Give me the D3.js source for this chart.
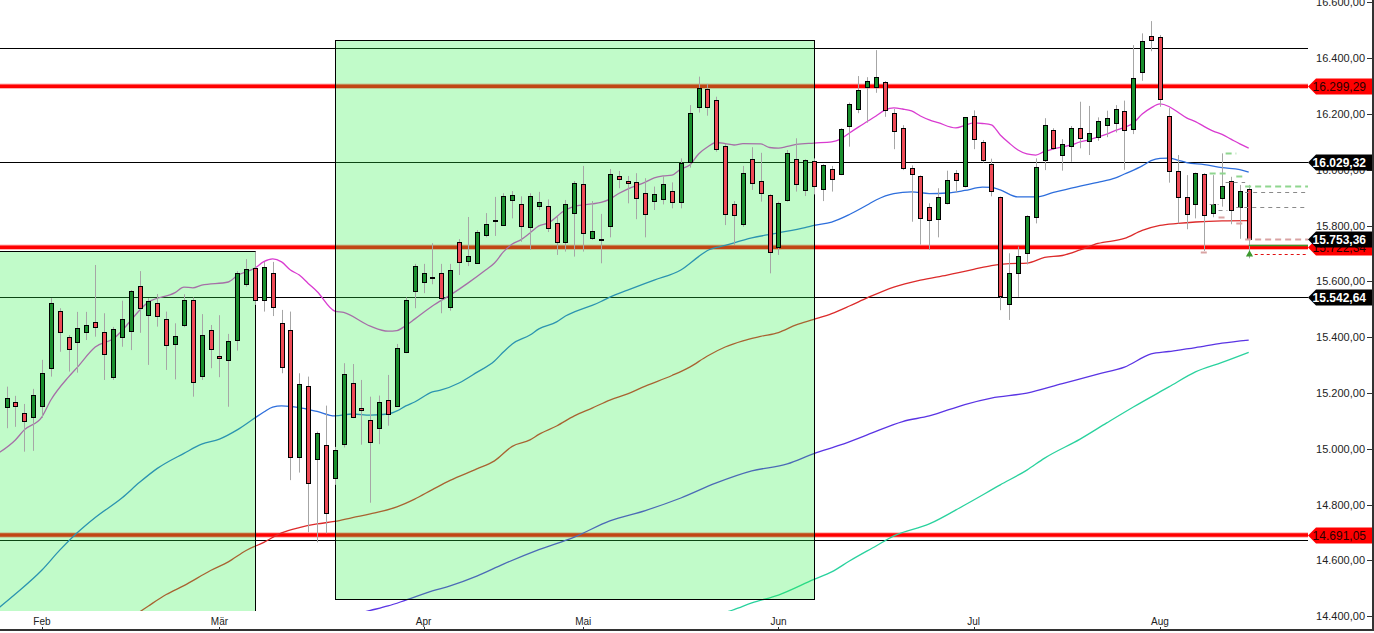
<!DOCTYPE html>
<html><head><meta charset="utf-8">
<script src="https://cdn.jsdelivr.net/npm/d3@7"></script>
<style>
html,body{margin:0;padding:0;background:#fff;}
svg{display:block;font-family:"Liberation Sans",Arial,sans-serif;}
</style></head><body>
<svg id="chart" width="1374" height="633"></svg>
<script>
// ---------- DATA (daily candles, index 0 = first visible trading day) ----------
const open=[15151,15169,15128,15113,15155,15289,15494,15400,15382,15418,
15454,15418,15257,15400,15421,15583,15479,15522,15464,15375,
15443,15532,15260,15425,15332,15319,15389,15590,15647,15532,
15629,15450,15426,14972,15225,14963,15013,14894,15016,15235,
15145,15102,15074,15174,15153,15346,15565,15597,15615,15629,
15507,15740,15674,15667,15765,15820,15803,15891,15876,15796,
15871,15870,15808,15742,15844,15948,15755,15751,15798,15977,
15959,15955,15916,15887,15894,15923,15884,16027,16224,16289,
16249,16086,15876,15805,16038,15959,15909,15725,15891,16038,
15927,16031,15930,16002,15984,16156,16217,16298,16298,16314,
16203,16149,16005,15977,15866,15823,15880,15988,15941,16192,
16099,16020,15902,15518,15629,15701,15830,16034,16142,16052,
16084,16149,16102,16117,16160,16167,16210,16145,16350,16479,
16475,16192,15995,15902,15876,15984,15844,15898,15959,15866,
15930];
const high=[15223,15190,15161,15215,15319,15540,15504,15408,15491,15491,
15659,15486,15437,15531,15569,15637,15540,15555,15492,15450,
15554,15543,15483,15444,15479,15412,15637,15680,15707,15670,
15670,15498,15492,15271,15259,15062,15155,15007,15307,15304,
15247,15187,15191,15265,15376,15543,15663,15663,15737,15663,
15663,15752,15831,15784,15845,15903,15916,15924,15905,15916,
15921,15894,15832,15892,15960,16014,15888,15842,16003,15996,
15978,15988,15970,15940,15980,15955,16041,16232,16334,16308,
16262,16093,15888,16014,16081,16061,15913,15886,16071,16113,
16038,16041,16020,16014,16149,16241,16336,16332,16429,16318,
16218,16160,16016,15980,15880,15934,15997,15999,16188,16213,
16107,16040,15904,15701,15725,15837,16041,16185,16149,16110,
16157,16244,16229,16188,16212,16232,16248,16447,16489,16533,
16483,16221,16053,15981,15990,15988,15981,16059,15975,15946,
15946];
const low=[15074,15079,14990,14993,15111,15259,15348,15277,15273,15390,
15402,15247,15247,15366,15354,15416,15301,15438,15283,15249,
15436,15187,15247,15289,15257,15151,15352,15581,15516,15492,
15476,15271,14888,14915,14701,14665,14697,14871,15005,15110,
15015,14807,15017,15083,15151,15343,15504,15558,15590,15486,
15495,15623,15655,15666,15758,15763,15802,15826,15742,15713,
15856,15777,15695,15707,15689,15707,15749,15665,15758,15934,
15880,15823,15758,15856,15876,15862,15862,16008,16205,16194,
16065,15802,15731,15796,15928,15886,15629,15695,15886,15922,
15906,15912,15888,15922,15981,16083,16203,16169,16276,16190,
16074,15999,15814,15732,15713,15758,15876,15919,15937,16074,
16026,15905,15497,15462,15545,15661,15808,15999,16071,15997,
16029,16077,16053,16104,16117,16134,16000,16128,16319,16425,
16226,15954,15808,15787,15826,15709,15830,15868,15805,15753,
15683];
const close=[15181,15155,15101,15192,15271,15522,15420,15357,15432,15443,
15436,15339,15429,15464,15565,15504,15529,15475,15371,15403,
15532,15239,15407,15357,15325,15386,15629,15644,15532,15651,
15507,15295,14972,15231,14877,15056,14769,14995,15267,15113,
15138,15024,15167,15124,15360,15532,15654,15629,15615,15540,
15640,15671,15690,15776,15805,15820,15905,15909,15800,15905,
15884,15790,15742,15876,15952,15773,15780,15751,15984,15966,
15952,15898,15841,15912,15948,15884,16026,16203,16292,16224,
16074,15841,15837,15988,15952,15916,15707,15880,16059,15948,
16034,15941,16016,15966,16145,16235,16285,16317,16332,16213,
16138,16005,15984,15826,15819,15902,15962,15962,16188,16109,
16034,15923,15547,15629,15690,15833,16009,16160,16077,16091,
16149,16113,16131,16174,16185,16217,16142,16328,16461,16464,
16253,15995,15902,15841,15988,15837,15876,15941,15855,15923,
15753.36];

const monthLabels=["Feb","Mär","Apr","Mai","Jun","Jul","Aug"];
const monthIndex=[4,24,47,65,87,109,130];
const yTicks=[14400,14600,14800,15000,15200,15400,15600,15800,16000,16200,16400,16600];

// moving averages: [candle index, value]
const ma20=[[-1,14983],[1,15032],[2,15068],[4,15115],[5,15175],[7,15258],[8,15293],[10,15365],[12,15394],[16,15526],[19,15560],[20,15580],[21,15577],[22,15587],[25,15598],[26,15621],[28,15648],[29,15671],[30,15681],[31,15670],[32,15641],[33,15623],[34,15593],[35,15564],[37,15494],[38,15489],[41,15440],[43,15422],[44,15424],[45,15442],[46,15465],[48,15512],[50,15551],[52,15594],[54,15641],[55,15666],[56,15706],[57,15734],[58,15750],[59,15774],[60,15799],[61,15809],[63,15856],[64,15869],[66,15878],[67,15883],[68,15895],[69,15915],[70,15931],[72,15956],[73,15971],[74,15978],[75,15981],[76,16003],[77,16017],[78,16057],[79,16082],[80,16098],[81,16094],[82,16089],[83,16094],[85,16093],[86,16080],[87,16078],[88,16084],[89,16091],[91,16096],[93,16100],[94,16110],[95,16132],[96,16153],[97,16173],[98,16193],[99,16214],[100,16222],[101,16218],[102,16211],[103,16193],[104,16179],[105,16169],[107,16150],[108,16159],[109,16168],[110,16166],[111,16161],[112,16125],[113,16096],[114,16071],[115,16057],[116,16053],[117,16066],[118,16075],[120,16089],[121,16100],[122,16107],[123,16118],[124,16128],[125,16141],[126,16152],[127,16168],[128,16200],[129,16222],[130,16236],[131,16227],[132,16207],[133,16186],[134,16173],[135,16155],[136,16139],[137,16127],[138,16110],[139,16093],[140,16078]];
const ma50=[[-1,14427],[1,14480],[4,14566],[6,14637],[8,14700],[10,14754],[13,14824],[15,14880],[17,14930],[20,14984],[22,15017],[24,15035],[26,15068],[28,15111],[29,15132],[30,15150],[31,15154],[33,15148],[35,15134],[37,15118],[39,15125],[41,15121],[43,15125],[44,15136],[45,15154],[46,15168],[48,15204],[49,15211],[51,15236],[53,15274],[55,15315],[56,15347],[57,15376],[59,15408],[60,15430],[62,15455],[63,15476],[64,15491],[66,15514],[67,15528],[68,15544],[70,15569],[73,15605],[76,15641],[78,15689],[79,15711],[81,15729],[84,15756],[87,15774],[90,15793],[91,15801],[93,15813],[95,15840],[97,15874],[98,15892],[100,15915],[102,15921],[104,15915],[106,15917],[108,15926],[110,15938],[111,15937],[112,15928],[114,15903],[116,15903],[118,15919],[121,15942],[123,15955],[125,15971],[126,15985],[128,16014],[129,16033],[130,16041],[131,16042],[132,16035],[133,16026],[135,16019],[137,16008],[139,16001],[140,15992]];
const ma100=[[14,14394],[16,14437],[18,14478],[20,14510],[23,14564],[25,14595],[27,14636],[29,14665],[31,14699],[33,14718],[35,14731],[37,14740],[39,14754],[41,14767],[44,14792],[46,14820],[48,14854],[50,14887],[53,14928],[55,14957],[57,15009],[59,15032],[60,15052],[62,15082],[64,15118],[66,15146],[68,15175],[70,15197],[72,15225],[75,15263],[77,15293],[79,15333],[81,15365],[83,15387],[85,15403],[87,15417],[89,15444],[91,15464],[93,15485],[95,15512],[97,15541],[100,15580],[103,15605],[106,15623],[109,15643],[111,15657],[113,15664],[115,15666],[117,15686],[119,15693],[121,15713],[123,15736],[126,15754],[128,15783],[130,15801],[132,15808],[134,15813],[137,15817],[140,15818]];
const ma200=[[39,14405],[41,14421],[43,14437],[45,14458],[48,14491],[50,14509],[53,14544],[56,14587],[60,14639],[64,14684],[68,14742],[72,14779],[76,14824],[80,14878],[84,14921],[88,14946],[91,14983],[94,15014],[97,15050],[101,15098],[104,15118],[108,15159],[111,15182],[115,15200],[119,15234],[123,15268],[126,15293],[129,15340],[131,15349],[134,15363],[137,15379],[140,15390]];
const maTeal=[[81,14414],[82,14424],[84,14448],[87,14476],[91,14532],[93,14559],[95,14598],[98,14652],[100,14688],[104,14731],[108,14799],[112,14871],[115,14924],[117,14967],[121,15035],[124,15093],[127,15150],[131,15222],[134,15276],[137,15310],[140,15346]];

const redLevels=[16299.29,15722.34,14691.05];
const blackLevels=[16435,16029.32,15542.64,14672];
const blackLabeled=[16029.32,15542.64];
const lastPrice=15753.36;
const zoneFrom=[-2,37], zoneTo=[28,91], zoneTop=[15709,16465], zoneBottom=[14380,14462];
// small projection marks at the right: value, start index, end index (null = plot edge), kind
const markValue=[16059,15988,15978,15957,15942,15922,15866,15751,15730,15697,15876,15855,15832,15808,15704];
const markFrom=[137.4,135.6,138.6,137.4,139.6,139.6,138.6,139.6,140,140,135.6,136.6,136.6,138.6,134.6];
const markTo=[138.6,137.4,139.4,139.6,null,null,null,null,null,null,136.6,137.6,137.6,139.4,135.6];
const markKind=["g","g","g","k","g","k","k","p","gs","r","k","k","p","p","p"];

// ---------- DRAW ----------
const svg=d3.select("#chart");
const plotR=1308, plotB=611;
const x=d3.scaleLinear().domain([0,140]).range([6.5,1248.7]);
const y=d3.scaleLinear().domain([14400,16600]).range([616.3,2.4]);
const de=d3.formatLocale({decimal:",",thousands:".",grouping:[3],currency:["","€"]});
const fmt=de.format(",.2f");

svg.append("defs").append("clipPath").attr("id","plot")
  .append("rect").attr("x",0).attr("y",0).attr("width",plotR).attr("height",plotB);
const g=svg.append("g").attr("clip-path","url(#plot)");
const px=v=>Math.round(v)+0.5;

// thin black levels
g.selectAll("line.bl").data(blackLevels).join("line")
  .attr("x1",0).attr("x2",plotR).attr("y1",d=>px(y(d))).attr("y2",d=>px(y(d)))
  .attr("stroke","#000").attr("stroke-width",1);
// thick red levels
redLevels.forEach(v=>{
  g.append("line").attr("x1",0).attr("x2",plotR).attr("y1",y(v)).attr("y2",y(v))
    .attr("stroke","rgba(255,0,0,0.3)").attr("stroke-width",5.5);
  g.append("line").attr("x1",0).attr("x2",plotR).attr("y1",y(v)).attr("y2",y(v))
    .attr("stroke","#ff0000").attr("stroke-width",3.5);
});

// moving averages
const line=d3.line().x(d=>x(d[0])).y(d=>y(d[1])).curve(d3.curveMonotoneX);
[[maTeal,"#2ad29e"],[ma200,"#5a34e4"],[ma100,"#dc2a2a"],[ma50,"#2d6edc"],[ma20,"#d93bd0"]].forEach(([d,c])=>{
  g.append("path").datum(d).attr("d",line).attr("fill","none").attr("stroke",c).attr("stroke-width",1.3);
});

// green zones (translucent overlay)
zoneFrom.forEach((f,i)=>{
  const x1=px(x(f)), x2=px(x(zoneTo[i])), y1=px(y(zoneTop[i])), y2=px(y(zoneBottom[i]));
  g.append("rect").attr("x",x1).attr("y",y1).attr("width",x2-x1).attr("height",y2-y1)
    .attr("fill","rgba(41,240,69,0.29)").attr("stroke","#000").attr("stroke-width",1);
});

// candles
const idx=d3.range(open.length);
const cg=g.append("g");
idx.forEach(i=>{
  const xi=Math.round(x(i));
  cg.append("line").attr("x1",xi+0.5).attr("x2",xi+0.5)
    .attr("y1",y(high[i])).attr("y2",y(low[i])).attr("stroke","#a6a6a6").attr("stroke-width",1);
});
idx.forEach(i=>{
  const xi=Math.round(x(i));
  const o=open[i], c=close[i];
  const top=Math.round(y(Math.max(o,c)))+0.5;
  let bot=Math.round(y(Math.min(o,c)))+0.5;
  if(bot-top<1) bot=top+1;
  const fill=c>o?"#1a8f2e":(c<o?"#ee4a56":"#000");
  cg.append("rect").attr("x",xi-1.5).attr("y",top).attr("width",4).attr("height",bot-top)
    .attr("fill",fill).attr("stroke","#000").attr("stroke-width",1);
});

// projection marks
const markStyle={g:["#8fd68f",2,"6,4"],k:["#8a8a8a",1,"4,4"],p:["#d9a3a3",2,"6,4"],gs:["#3d9a2f",1.3,null],r:["#e01010",1,"3,3"]};
markValue.forEach((v,i)=>{
  const s=markStyle[markKind[i]];
  const x1=x(markFrom[i]), x2=markTo[i]==null?plotR:x(markTo[i]);
  const l=g.append("line").attr("x1",x1).attr("x2",x2).attr("y1",px(y(v))).attr("y2",px(y(v)))
    .attr("stroke",s[0]).attr("stroke-width",s[1]);
  if(s[2]) l.attr("stroke-dasharray",s[2]);
});
// last-candle marker
g.append("path").attr("d",d3.symbol(d3.symbolTriangle,22)())
  .attr("transform",`translate(${Math.round(x(140))+0.5},${y(15697)})`).attr("fill","#3d9a2f");

// ---------- AXES ----------
// right axis
svg.append("line").attr("x1",1373).attr("x2",1373).attr("y1",0).attr("y2",631).attr("stroke","#333").attr("stroke-width",2);
yTicks.forEach(v=>{
  const yy=y(v);
  svg.append("line").attr("x1",1367).attr("x2",1372).attr("y1",px(yy)).attr("y2",px(yy)).attr("stroke","#333");
  svg.append("text").attr("x",1365).attr("y",yy+4).attr("text-anchor","end")
    .attr("font-size",11).attr("fill","#222").text(fmt(v));
});
// bottom axis
svg.append("line").attr("x1",0).attr("x2",1374).attr("y1",630).attr("y2",630).attr("stroke","#333").attr("stroke-width",2);
monthIndex.forEach((m,i)=>{
  const xx=px(x(m));
  svg.append("line").attr("x1",xx).attr("x2",xx).attr("y1",627).attr("y2",630).attr("stroke","#333");
  svg.append("text").attr("x",x(m)).attr("y",625).attr("text-anchor","middle")
    .attr("font-size",10).attr("fill","#222").text(monthLabels[i]);
});

// price tags
function tag(v,bg,fg,bold){
  const yy=Math.round(y(v))+0.5;
  svg.append("path").attr("d",`M1308,${yy} L1316,${yy-8} L1372,${yy-8} L1372,${yy+8} L1316,${yy+8} Z`).attr("fill",bg);
  svg.append("text").attr("x",1366).attr("y",yy+4.5).attr("text-anchor","end")
    .attr("font-size",12).attr("font-weight",bold?"bold":"normal").attr("fill",fg).text(fmt(v));
}
redLevels.forEach(v=>tag(v,"#ff0000","#2a0000",false));
blackLabeled.forEach(v=>tag(v,"#000","#fff",true));
tag(lastPrice,"#000","#fff",true);
</script>
</body></html>
